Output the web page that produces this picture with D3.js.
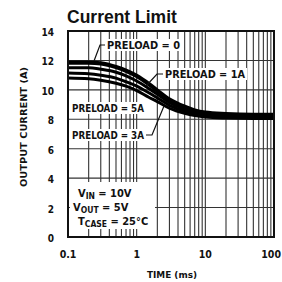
<!DOCTYPE html>
<html>
  <head>
    <meta charset="utf-8" />
    <script src="https://d3js.org/d3.v7.min.js"></script>
    <title>Current Limit</title>
    <style>
      body { margin: 0; background: #fff; }
      text { font-family: "Liberation Sans Narrow", "DejaVu Sans Condensed", "Arial Narrow", sans-serif; font-weight: bold; fill: #111; }
      .grid { stroke: #333; stroke-width: 1.1px; }
      .curve { fill: none; stroke: #000; }
      .leader { fill: none; stroke: #111; stroke-width: 1.2px; }
    </style>
  </head>
  <body>

    <svg id="chart" width="282" height="282"></svg>

    <script>

      // time (ms) and output current (A) for each preload curve
      var times = [0.1, 0.2, 0.3, 0.5, 0.7, 1, 1.5, 2, 3, 5, 7, 10, 20, 50, 100];
      var preload0 = [11.85, 11.85, 11.8, 11.55, 11.3, 10.95, 10.4, 9.95, 9.35, 8.85, 8.6, 8.45, 8.35, 8.3, 8.3];
      var preload1A = [11.5, 11.5, 11.4, 11.2, 10.95, 10.6, 10.1, 9.7, 9.15, 8.7, 8.5, 8.35, 8.25, 8.2, 8.2];
      var preload5A = [11.15, 11.1, 11.0, 10.8, 10.55, 10.25, 9.8, 9.45, 8.95, 8.55, 8.38, 8.25, 8.15, 8.12, 8.12];
      var preload3A = [10.8, 10.75, 10.65, 10.45, 10.25, 9.95, 9.5, 9.2, 8.75, 8.4, 8.25, 8.15, 8.08, 8.05, 8.05];

      var xTicks = [0.1, 1, 10, 100];
      var xTickLabels = ["0.1", "1", "10", "100"];
      var yTicks = [0, 2, 4, 6, 8, 10, 12, 14];

      var svg = d3.select("#chart");

      var x = d3.scaleLog().domain([0.1, 100]).range([68, 274]);
      var y = d3.scaleLinear().domain([0, 14]).range([237, 31]);

      // minor log grid 2..9 in each decade
      var minor = [];
      [0.1, 1, 10].forEach(function(d) {
        for (var k = 2; k <= 9; k++) minor.push(d * k);
      });
      minor.push(1, 10);

      svg.selectAll(".vgrid")
        .data(minor)
        .enter().append("line")
        .attr("class", "grid")
        .attr("x1", function(d) { return x(d); })
        .attr("x2", function(d) { return x(d); })
        .attr("y1", y(14))
        .attr("y2", y(0));

      svg.selectAll(".hgrid")
        .data(yTicks.slice(1, -1))
        .enter().append("line")
        .attr("class", "grid")
        .attr("x1", x(0.1))
        .attr("x2", x(100))
        .attr("y1", function(d) { return y(d); })
        .attr("y2", function(d) { return y(d); });

      // blank area behind the conditions block
      svg.append("rect")
        .attr("x", 70).attr("y", 182)
        .attr("width", 85).attr("height", 47)
        .attr("fill", "#fff");

      var line = d3.line()
        .x(function(d, i) { return x(times[i]); })
        .y(function(d) { return y(d); })
        .curve(d3.curveMonotoneX);

      svg.selectAll(".curve")
        .data([preload0, preload1A, preload5A, preload3A])
        .enter().append("path")
        .attr("class", "curve")
        .attr("stroke-width", function(d, i) { return i === 0 ? 4.2 : 3; })
        .attr("d", line);

      // frame
      svg.append("rect")
        .attr("x", x(0.1)).attr("y", y(14))
        .attr("width", x(100) - x(0.1))
        .attr("height", y(0) - y(14))
        .attr("fill", "none")
        .attr("stroke", "#111")
        .attr("stroke-width", 2);

      // labels with white backgrounds
      var labels = [
        { text: "PRELOAD = 0", x: 107, y: 49, w: 73 },
        { text: "PRELOAD = 1A", x: 165, y: 78, w: 80 },
        { text: "PRELOAD = 5A", x: 72, y: 112, w: 72 },
        { text: "PRELOAD = 3A", x: 72, y: 139, w: 72 }
      ];

      labels.forEach(function(l) {
        svg.append("rect")
          .attr("x", l.x - 2).attr("y", l.y - 10)
          .attr("width", l.w + 4).attr("height", 12)
          .attr("fill", "#fff");
        svg.append("text")
          .attr("x", l.x).attr("y", l.y)
          .attr("font-size", 10.5)
          .attr("textLength", l.w)
          .attr("lengthAdjust", "spacingAndGlyphs")
          .text(l.text);
      });

      var leaders = [
        [[105, 45], [100, 45], [94, 61]],
        [[163, 74], [157, 74], [146, 86]],
        [[146, 135], [152, 135], [164, 106]]
      ];
      svg.selectAll(".leader")
        .data(leaders)
        .enter().append("path")
        .attr("class", "leader")
        .attr("d", d3.line());

      // test conditions
      var cond = [
        { main: "V", sub: "IN", rest: " = 10V", x: 78, y: 197 },
        { main: "V", sub: "OUT", rest: " = 5V", x: 73, y: 211 },
        { main: "T", sub: "CASE", rest: " = 25\u00b0C", x: 78, y: 225 }
      ];
      cond.forEach(function(c) {
        var t = svg.append("text")
          .attr("x", c.x).attr("y", c.y)
          .attr("font-size", 11);
        t.append("tspan").text(c.main);
        t.append("tspan").attr("font-size", 8.5).attr("dy", 2).text(c.sub);
        t.append("tspan").attr("dy", -2).text(c.rest);
      });

      // y tick labels
      svg.selectAll(".ylab")
        .data(yTicks)
        .enter().append("text")
        .attr("x", 54)
        .attr("y", function(d) { return y(d) + 5; })
        .attr("text-anchor", "end")
        .attr("font-size", 10)
        .text(function(d) { return d; });

      // x tick labels
      svg.selectAll(".xlab")
        .data(xTicks)
        .enter().append("text")
        .attr("x", function(d, i) { return i === 3 ? 281 : x(d); })
        .attr("y", 258)
        .attr("text-anchor", function(d, i) { return i === 3 ? "end" : "middle"; })
        .attr("font-size", 10.5)
        .text(function(d, i) { return xTickLabels[i]; });

      svg.append("text")
        .attr("x", 172).attr("y", 278)
        .attr("text-anchor", "middle")
        .attr("font-size", 9)
        .attr("textLength", 50)
        .attr("lengthAdjust", "spacingAndGlyphs")
        .text("TIME (ms)");

      svg.append("text")
        .attr("transform", "translate(27,127) rotate(-90)")
        .attr("text-anchor", "middle")
        .attr("font-size", 9.5)
        .attr("textLength", 120)
        .attr("lengthAdjust", "spacingAndGlyphs")
        .text("OUTPUT CURRENT (A)");

      svg.append("text")
        .attr("x", 67).attr("y", 23)
        .style("font-family", "'Liberation Sans', Arial, sans-serif")
        .attr("font-size", 17.5)
        .text("Current Limit");

    </script>

  </body>
</html>
